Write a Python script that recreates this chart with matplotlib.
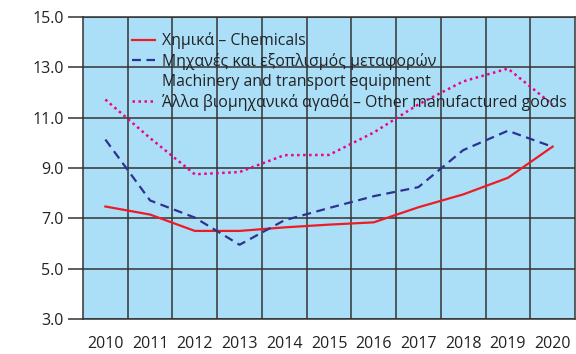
import matplotlib
matplotlib.use("Agg")
import matplotlib.pyplot as plt
from matplotlib.lines import Line2D

plt.rcParams['font.family'] = ['Open Sans', 'DejaVu Sans']

years = ['2010', '2011', '2012', '2013', '2014', '2015', '2016', '2017', '2018', '2019', '2020']
chemicals = [7.47, 7.15, 6.50, 6.50, 6.64, 6.75, 6.84, 7.44, 7.95, 8.61, 9.85]
machinery = [10.13, 7.71, 7.03, 5.95, 6.92, 7.41, 7.88, 8.24, 9.71, 10.48, 9.84]
other_goods = [11.72, 10.19, 8.75, 8.84, 9.51, 9.52, 10.41, 11.53, 12.44, 12.95, 11.52]
y_ticks = [3.0, 5.0, 7.0, 9.0, 11.0, 13.0, 15.0]

lbl_chem = "Χημικά – Chemicals"
lbl_mach_gr = "Μηχανές και εξοπλισμός μεταφορών"
lbl_mach_en = "Machinery and transport equipment"
lbl_other = "Άλλα βιομηχανικά αγαθά – Other manufactured goods"

RED = "#ed1c24"
BLUE = "#2e3192"
PINK = "#ec008c"
GRID = "#333333"
TXT = "#222222"

fig = plt.figure(figsize=(5.76, 3.54), dpi=100)
ax = fig.add_axes([83 / 576, 35 / 354, 492 / 576, 302 / 354])
ax.set_facecolor("#abdff8")

x = list(range(len(years)))
ax.plot(x, chemicals, color=RED, lw=1.6)
ax.plot(x, machinery, color=BLUE, lw=1.6, dashes=(4, 2.5))
ax.plot(x, other_goods, color=PINK, lw=1.8, linestyle=(0, (1, 1.4)))

ax.set_xlim(-0.5, len(years) - 0.5)
ax.set_ylim(3, 15)
ax.set_yticks(y_ticks)
ax.set_yticklabels([f"{v:.1f}" for v in y_ticks], fontsize=11.5, color=TXT)
ax.set_xticks(x)
ax.set_xticklabels(years, fontsize=11.5, color=TXT)
ax.set_xticks([i + 0.5 for i in x[:-1]], minor=True)

# vertical separators between categories, horizontal grid at major ticks
ax.grid(axis='y', which='major', color=GRID, lw=1.1)
ax.grid(axis='x', which='minor', color=GRID, lw=1.1)
ax.set_axisbelow(True)
ax.tick_params(axis='x', which='both', length=0, pad=12)
ax.tick_params(axis='y', length=11, width=1.1, color=GRID, pad=3)
for s in ax.spines.values():
    s.set_color(GRID)
    s.set_linewidth(1.1)

handles = [
    Line2D([], [], color=RED, lw=1.6),
    Line2D([], [], color=BLUE, lw=1.6, dashes=(4, 2.5)),
    Line2D([], [], color="none"),
    Line2D([], [], color=PINK, lw=1.8, linestyle=(0, (1, 1.4))),
]
labels = [lbl_chem, lbl_mach_gr, lbl_mach_en, lbl_other]
ax.legend(handles, labels, loc='upper left', bbox_to_anchor=(0.0996, 0.950),
          frameon=False, fontsize=11.4, handlelength=1.45, handletextpad=0.45,
          labelspacing=0.24, borderpad=0.0, borderaxespad=0.0, labelcolor=TXT)

fig.savefig("out.png", dpi=100)
